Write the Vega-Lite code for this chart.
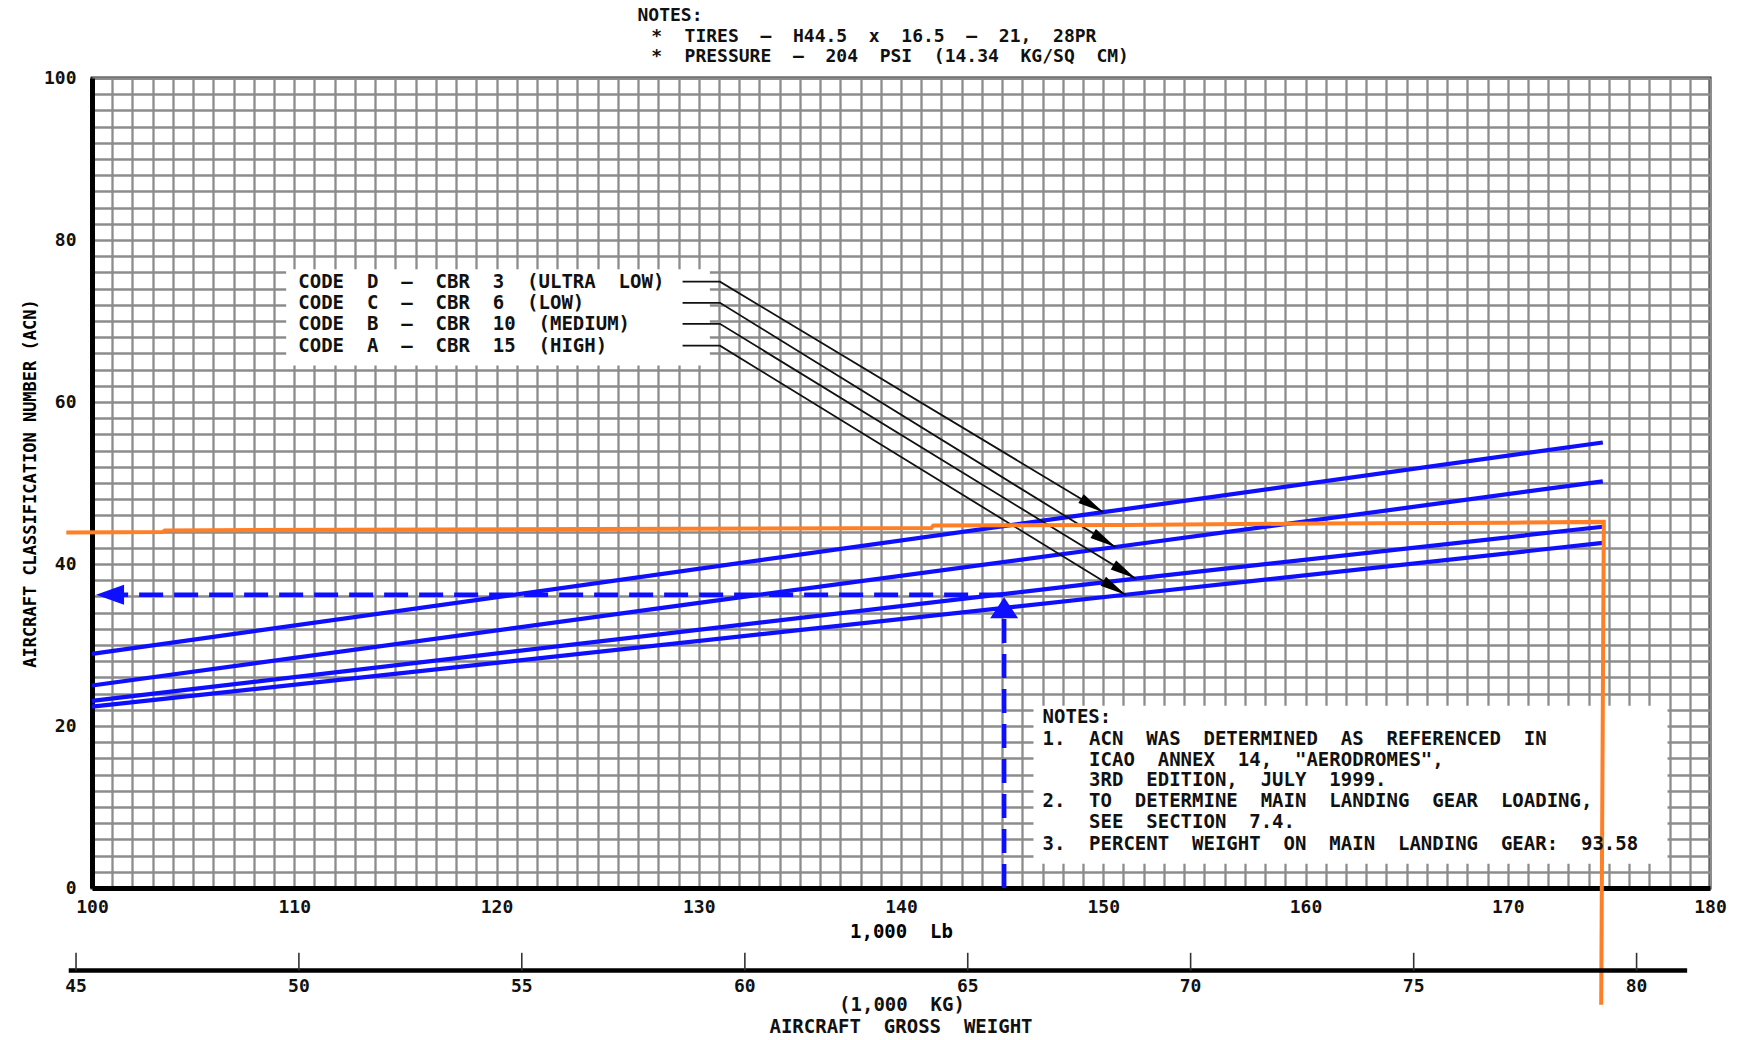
{
  "$schema": "https://vega.github.io/schema/vega-lite/v6.json",
  "autosize": {"type": "none"},
  "width": 1618,
  "height": 810,
  "padding": {"left": 92, "top": 78, "right": 32, "bottom": 152},
  "background": "white",
  "config": {
    "view": {"stroke": "#222", "strokeWidth": 3},
    "font": "DejaVu Sans Mono"
  },
  "datasets": {
    "acn": [
      {"series": "D", "order": 1, "x": 100, "y": 28.9},
      {"series": "D", "order": 2, "x": 150, "y": 46.4},
      {"series": "D", "order": 3, "x": 174.7, "y": 55.0},
      {"series": "C", "order": 1, "x": 100, "y": 25.0},
      {"series": "C", "order": 2, "x": 129.1, "y": 34.9},
      {"series": "C", "order": 3, "x": 150.6, "y": 42.1},
      {"series": "C", "order": 4, "x": 174.7, "y": 50.2},
      {"series": "B", "order": 1, "x": 100, "y": 23.1},
      {"series": "B", "order": 2, "x": 151.6, "y": 38.2},
      {"series": "B", "order": 3, "x": 174.7, "y": 44.6},
      {"series": "A", "order": 1, "x": 100, "y": 22.4},
      {"series": "A", "order": 2, "x": 151.1, "y": 36.2},
      {"series": "A", "order": 3, "x": 174.7, "y": 42.6}
    ],
    "dashed": [
      {"seg": "h", "order": 1, "x": 100.6, "y": 36.2},
      {"seg": "h", "order": 2, "x": 145.1, "y": 36.2},
      {"seg": "v", "order": 1, "x": 145.1, "y": 0},
      {"seg": "v", "order": 2, "x": 145.1, "y": 34.0}
    ],
    "arrowLeft": [{"x": 100.2, "y": 36.2}],
    "arrowUp": [{"x": 145.1, "y": 35.9}],
    "orange": [
      {"order": 1, "x": 98.73, "y": 43.9},
      {"order": 2, "x": 103.5, "y": 43.95},
      {"order": 3, "x": 103.6, "y": 44.15},
      {"order": 4, "x": 141.5, "y": 44.45},
      {"order": 5, "x": 141.6, "y": 44.75},
      {"order": 6, "x": 151.0, "y": 44.8},
      {"order": 7, "x": 160.5, "y": 45.0},
      {"order": 8, "x": 170.0, "y": 45.1},
      {"order": 9, "x": 174.75, "y": 45.2},
      {"order": 10, "x": 174.62, "y": -14.4}
    ],
    "leaders": [
      {"code": "D", "order": 1, "x": 129.2, "y": 74.85},
      {"code": "D", "order": 2, "x": 131.05, "y": 74.85},
      {"code": "D", "order": 3, "x": 150.0, "y": 46.4},
      {"code": "C", "order": 1, "x": 129.2, "y": 72.25},
      {"code": "C", "order": 2, "x": 131.05, "y": 72.25},
      {"code": "C", "order": 3, "x": 150.6, "y": 42.1},
      {"code": "B", "order": 1, "x": 129.2, "y": 69.65},
      {"code": "B", "order": 2, "x": 131.05, "y": 69.65},
      {"code": "B", "order": 3, "x": 151.6, "y": 38.2},
      {"code": "A", "order": 1, "x": 129.2, "y": 66.95},
      {"code": "A", "order": 2, "x": 131.05, "y": 66.95},
      {"code": "A", "order": 3, "x": 151.1, "y": 36.2}
    ],
    "tips": [
      {"code": "D", "x": 150.0, "y": 46.4},
      {"code": "C", "x": 150.6, "y": 42.1},
      {"code": "B", "x": 151.6, "y": 38.2},
      {"code": "A", "x": 151.1, "y": 36.2}
    ],
    "boxes": [
      {"box": "legend", "x": 109.6, "x2": 130.55, "y": 64.5, "y2": 76.4},
      {"box": "notes", "x": 146.55, "x2": 177.9, "y": 3.0, "y2": 22.5}
    ],
    "topNotes": [
      {"x": 126.97, "y": 107.65, "text": "NOTES:"},
      {"x": 127.65, "y": 105.05, "text": "*"},
      {"x": 129.3, "y": 105.05, "text": "TIRES \u00a0– \u00a0H44.5 \u00a0x \u00a016.5 \u00a0– \u00a021, \u00a028PR"},
      {"x": 127.65, "y": 102.55, "text": "*"},
      {"x": 129.3, "y": 102.55, "text": "PRESSURE \u00a0– \u00a0204 \u00a0PSI \u00a0(14.34 \u00a0KG/SQ \u00a0CM)"}
    ],
    "leftTexts": [
      {"x": 110.2, "y": 74.85, "text": "CODE \u00a0D \u00a0– \u00a0CBR \u00a03 \u00a0(ULTRA \u00a0LOW)"},
      {"x": 110.2, "y": 72.25, "text": "CODE \u00a0C \u00a0– \u00a0CBR \u00a06 \u00a0(LOW)"},
      {"x": 110.2, "y": 69.65, "text": "CODE \u00a0B \u00a0– \u00a0CBR \u00a010 \u00a0(MEDIUM)"},
      {"x": 110.2, "y": 66.95, "text": "CODE \u00a0A \u00a0– \u00a0CBR \u00a015 \u00a0(HIGH)"},
      {"x": 147.0, "y": 21.1, "text": "NOTES:"},
      {"x": 147.0, "y": 18.45, "text": "1."},
      {"x": 149.3, "y": 18.45, "text": "ACN \u00a0WAS \u00a0DETERMINED \u00a0AS \u00a0REFERENCED \u00a0IN"},
      {"x": 149.3, "y": 15.8, "text": "ICAO \u00a0ANNEX \u00a014, \u00a0\"AERODROMES\","},
      {"x": 149.3, "y": 13.3, "text": "3RD \u00a0EDITION, \u00a0JULY \u00a01999."},
      {"x": 147.0, "y": 10.8, "text": "2."},
      {"x": 149.3, "y": 10.8, "text": "TO \u00a0DETERMINE \u00a0MAIN \u00a0LANDING \u00a0GEAR \u00a0LOADING,"},
      {"x": 149.3, "y": 8.1, "text": "SEE \u00a0SECTION \u00a07.4."},
      {"x": 147.0, "y": 5.45, "text": "3."},
      {"x": 149.3, "y": 5.45, "text": "PERCENT \u00a0WEIGHT \u00a0ON \u00a0MAIN \u00a0LANDING \u00a0GEAR: \u00a093.58"}
    ],
    "centerTexts": [
      {"x": 140.05, "y": -14.4, "text": "(1,000 \u00a0KG)"},
      {"x": 140.0, "y": -17.2, "text": "AIRCRAFT \u00a0GROSS \u00a0WEIGHT"}
    ],
    "kgTicks": [
      {"kg": "45", "x": 99.21, "y": -10.2, "y2": -8.0, "ly": -12.2},
      {"kg": "50", "x": 110.23, "y": -10.2, "y2": -8.0, "ly": -12.2},
      {"kg": "55", "x": 121.25, "y": -10.2, "y2": -8.0, "ly": -12.2},
      {"kg": "60", "x": 132.28, "y": -10.2, "y2": -8.0, "ly": -12.2},
      {"kg": "65", "x": 143.3, "y": -10.2, "y2": -8.0, "ly": -12.2},
      {"kg": "70", "x": 154.32, "y": -10.2, "y2": -8.0, "ly": -12.2},
      {"kg": "75", "x": 165.35, "y": -10.2, "y2": -8.0, "ly": -12.2},
      {"kg": "80", "x": 176.37, "y": -10.2, "y2": -8.0, "ly": -12.2}
    ],
    "kgLine": [{"x": 98.85, "x2": 178.87, "y": -10.2}]
  },
  "encoding": {
    "x": {
      "field": "x",
      "type": "quantitative",
      "scale": {"domain": [100, 180], "nice": false, "zero": false},
      "axis": {
        "title": "1,000 \u00a0Lb",
        "tickCount": 80,
        "labelExpr": "datum.value % 10 === 0 ? datum.label : ''",
        "grid": true,
        "gridColor": "#8c8c8c",
        "gridWidth": 2.3,
        "ticks": false,
        "domainColor": "#000",
        "domainWidth": 5,
        "labelFont": "DejaVu Sans Mono",
        "labelFontSize": 18,
        "labelFontWeight": "bold",
        "labelColor": "#111",
        "labelPadding": 10,
        "labelFlush": false,
        "labelOverlap": false,
        "labelBound": false,
        "titleFont": "DejaVu Sans Mono",
        "titleFontSize": 19,
        "titleFontWeight": "bold",
        "titleColor": "#000",
        "titlePadding": 6
      }
    },
    "y": {
      "field": "y",
      "type": "quantitative",
      "scale": {"domain": [0, 100], "nice": false, "zero": false},
      "axis": {
        "title": "AIRCRAFT CLASSIFICATION NUMBER (ACN)",
        "tickCount": 50,
        "labelExpr": "datum.value % 20 === 0 ? datum.label : ''",
        "grid": true,
        "gridColor": "#8c8c8c",
        "gridWidth": 2.3,
        "ticks": false,
        "domainColor": "#000",
        "domainWidth": 5,
        "labelFont": "DejaVu Sans Mono",
        "labelFontSize": 18,
        "labelFontWeight": "bold",
        "labelColor": "#111",
        "labelPadding": 16,
        "labelFlush": false,
        "labelOverlap": false,
        "labelBound": false,
        "titleFont": "DejaVu Sans Mono",
        "titleFontSize": 17,
        "titleFontWeight": "bold",
        "titleColor": "#000",
        "titlePadding": 4
      }
    }
  },
  "layer": [
    {
      "data": {"name": "boxes"},
      "mark": {"type": "rect", "fill": "white", "strokeWidth": 0},
      "encoding": {"x2": {"field": "x2"}, "y2": {"field": "y2"}}
    },
    {
      "data": {"name": "acn"},
      "mark": {"type": "line", "color": "#0f0fff", "strokeWidth": 4.2},
      "encoding": {"detail": {"field": "series"}, "order": {"field": "order"}}
    },
    {
      "data": {"name": "dashed"},
      "mark": {"type": "line", "color": "#0f0fff", "strokeWidth": 4.5, "strokeDash": [24, 11]},
      "encoding": {"detail": {"field": "seg"}, "order": {"field": "order"}}
    },
    {
      "data": {"name": "arrowLeft"},
      "mark": {"type": "point", "shape": "M0,0L2,-0.71L2,0.71Z", "size": 784, "filled": true, "color": "#0f0fff", "opacity": 1, "strokeWidth": 0}
    },
    {
      "data": {"name": "arrowUp"},
      "mark": {"type": "point", "shape": "M0,0L-1.33,2L1.33,2Z", "size": 441, "filled": true, "color": "#0f0fff", "opacity": 1, "strokeWidth": 0}
    },
    {
      "data": {"name": "leaders"},
      "mark": {"type": "line", "color": "#111", "strokeWidth": 1.8},
      "encoding": {"detail": {"field": "code"}, "order": {"field": "order"}}
    },
    {
      "data": {"name": "tips"},
      "mark": {"type": "point", "shape": "M0,0L-2,-0.4L-2,0.4Z", "size": 676, "angle": 31.4, "filled": true, "color": "#000", "opacity": 1, "strokeWidth": 0}
    },
    {
      "data": {"name": "orange"},
      "mark": {"type": "line", "color": "#ff7f27", "strokeWidth": 4},
      "encoding": {"order": {"field": "order"}}
    },
    {
      "data": {"name": "topNotes"},
      "mark": {"type": "text", "align": "left", "baseline": "middle", "font": "DejaVu Sans Mono", "fontSize": 18, "fontWeight": "bold", "color": "#111"},
      "encoding": {"text": {"field": "text"}}
    },
    {
      "data": {"name": "leftTexts"},
      "mark": {"type": "text", "align": "left", "baseline": "middle", "font": "DejaVu Sans Mono", "fontSize": 19, "fontWeight": "bold", "color": "#111"},
      "encoding": {"text": {"field": "text"}}
    },
    {
      "data": {"name": "centerTexts"},
      "mark": {"type": "text", "align": "center", "baseline": "middle", "font": "DejaVu Sans Mono", "fontSize": 19, "fontWeight": "bold", "color": "#111"},
      "encoding": {"text": {"field": "text"}}
    },
    {
      "data": {"name": "kgLine"},
      "mark": {"type": "rule", "color": "#000", "strokeWidth": 4.5},
      "encoding": {"x2": {"field": "x2"}}
    },
    {
      "data": {"name": "kgTicks"},
      "mark": {"type": "rule", "color": "#333", "strokeWidth": 1.6},
      "encoding": {"y2": {"field": "y2"}}
    },
    {
      "data": {"name": "kgTicks"},
      "mark": {"type": "text", "align": "center", "baseline": "middle", "font": "DejaVu Sans Mono", "fontSize": 18, "fontWeight": "bold", "color": "#111"},
      "encoding": {"y": {"field": "ly", "type": "quantitative"}, "text": {"field": "kg"}}
    }
  ]
}
